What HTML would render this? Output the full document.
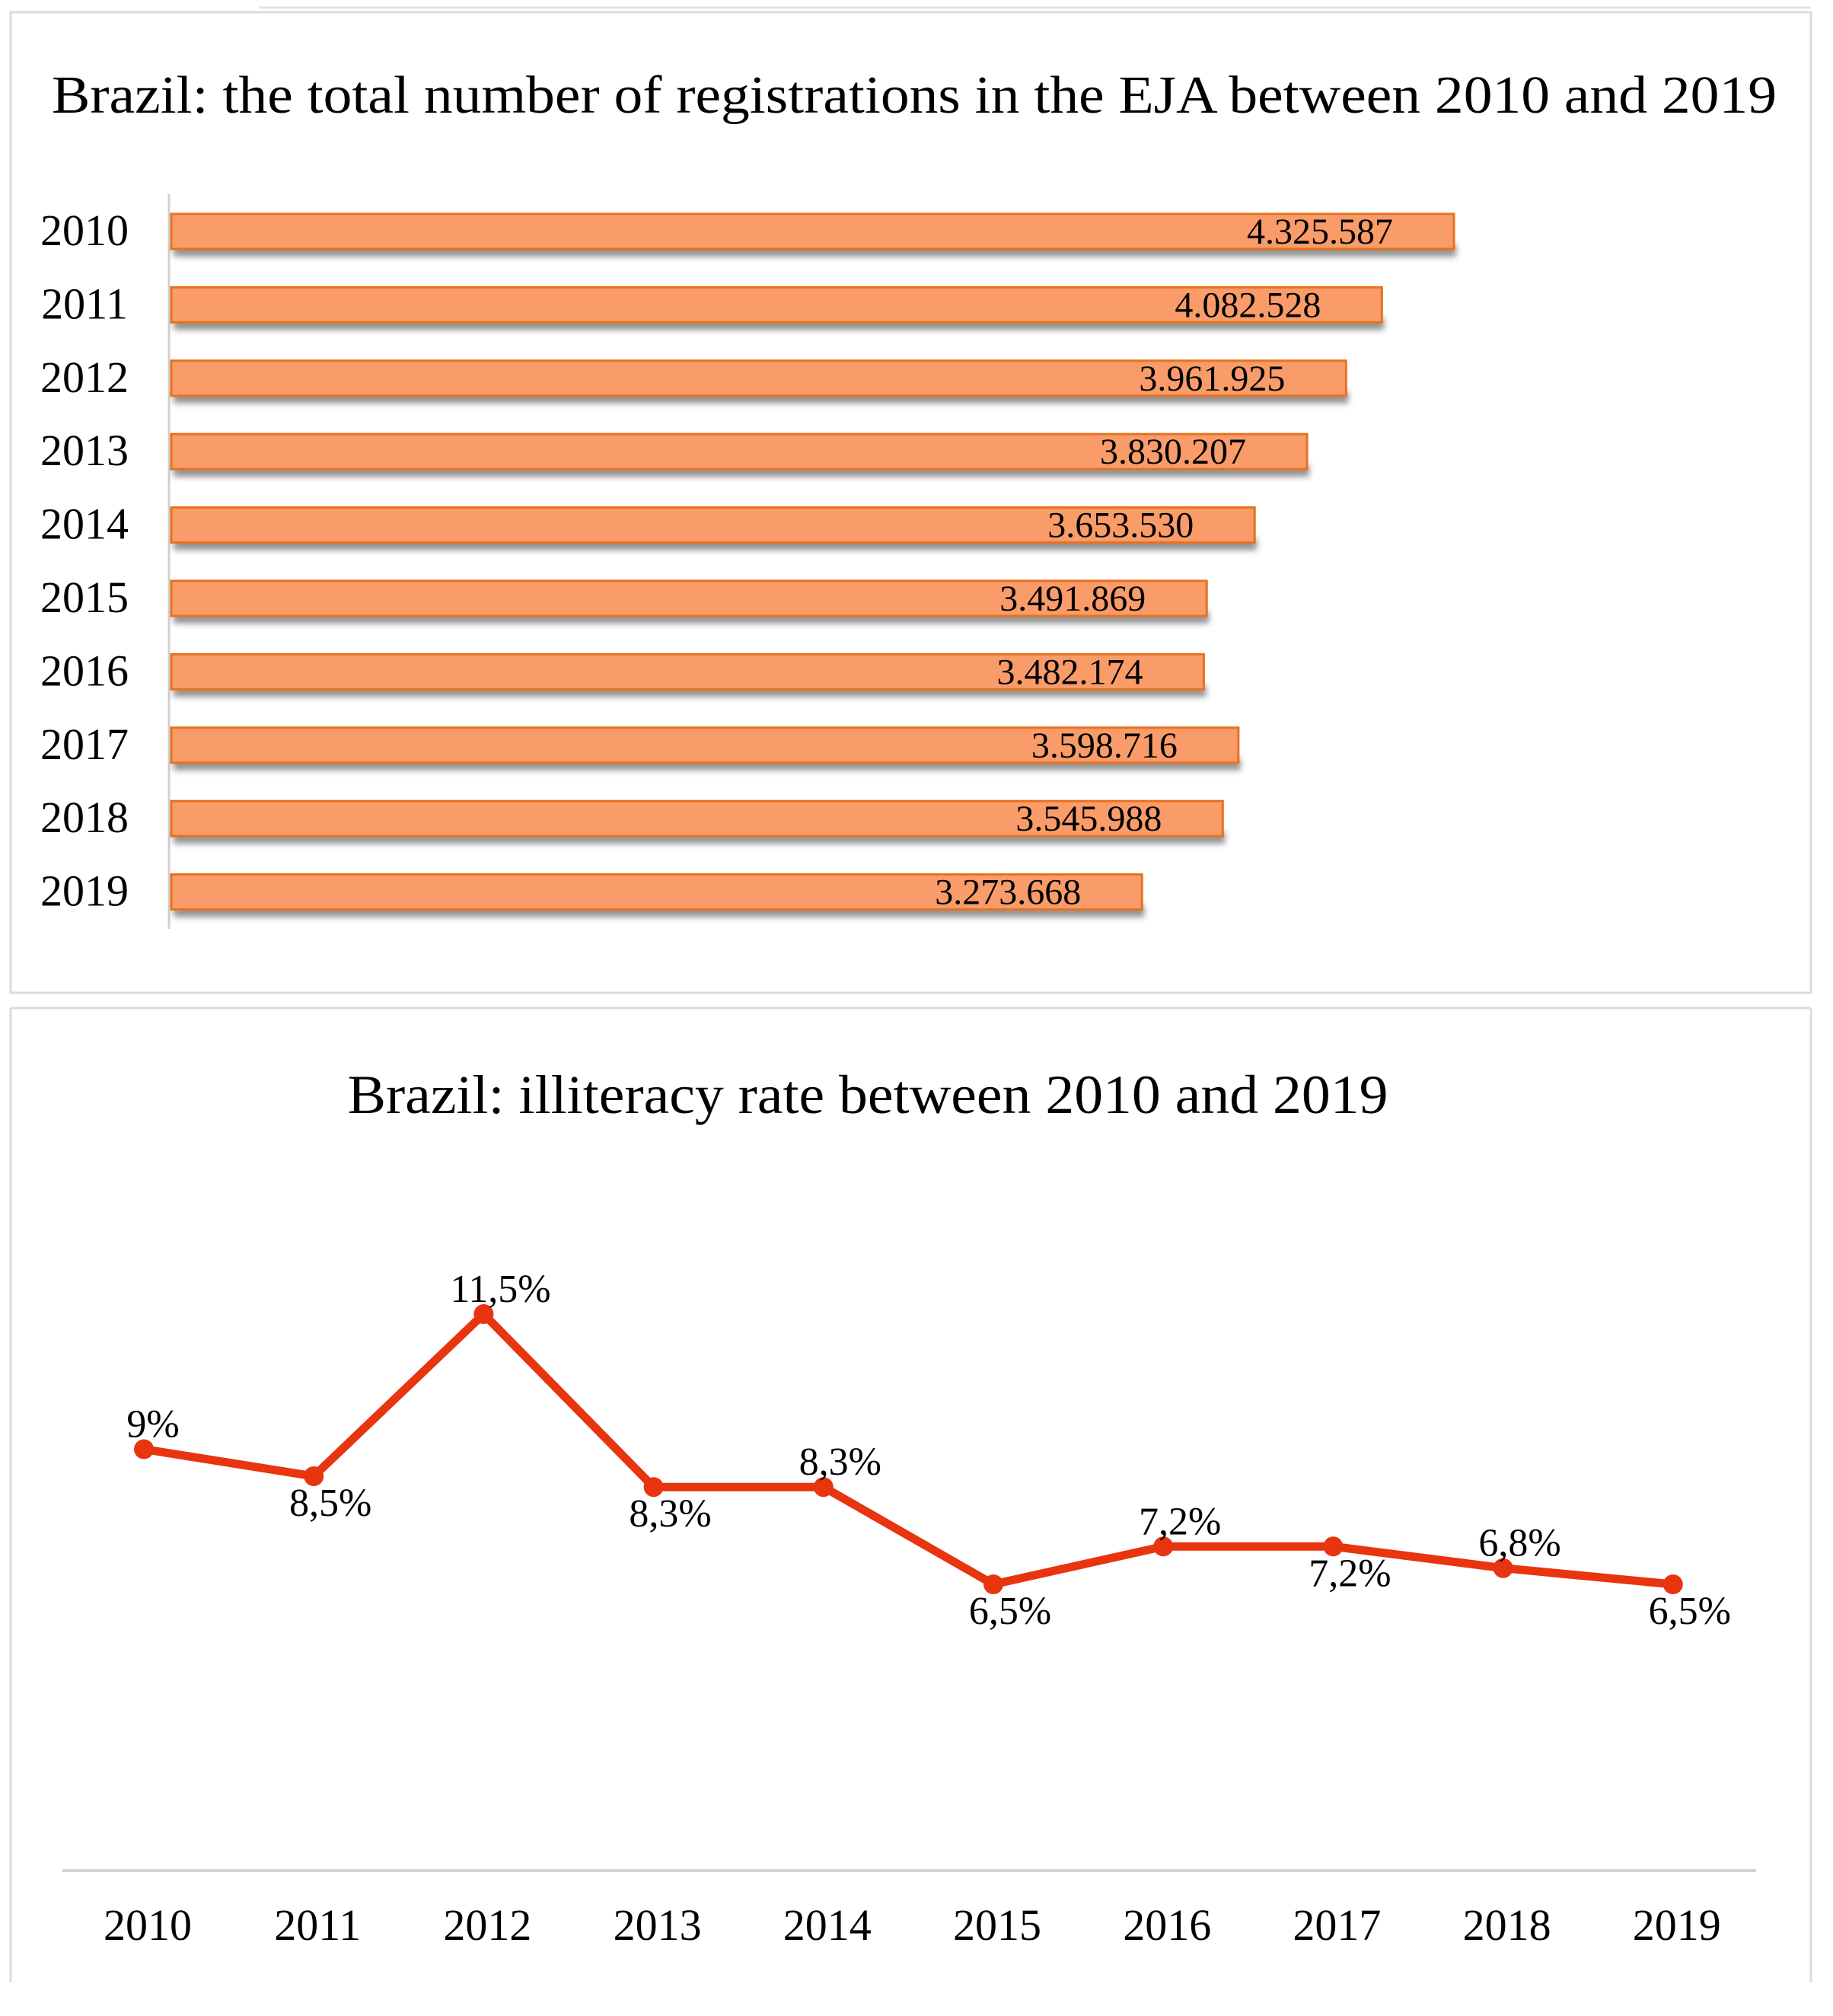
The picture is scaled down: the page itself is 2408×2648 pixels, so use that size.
<!DOCTYPE html>
<html><head><meta charset="utf-8"><style>
body{margin:0;background:#fff;}
svg{display:block;font-family:"Liberation Serif",serif;}
</style></head><body>
<svg width="2408" height="2648" viewBox="0 0 2408 2648">
<defs>
<filter id="sh" x="-5%" y="-50%" width="110%" height="250%"><feGaussianBlur stdDeviation="4"/></filter>
</defs>
<line x1="340" y1="10" x2="2379" y2="10" stroke="#e4e4e4" stroke-width="3"/>
<rect x="14" y="16" width="2365" height="1288" fill="#fff" stroke="#dcdcdc" stroke-width="3"/>
<text x="1201" y="148" font-size="70" text-anchor="middle" textLength="2266" lengthAdjust="spacingAndGlyphs">Brazil: the total number of registrations in the EJA between 2010 and 2019</text>
<line x1="222" y1="255" x2="222" y2="1220" stroke="#d0d0d0" stroke-width="3"/>
<g id="bars"></g>
<path d="M14,1324 H2379 M14,1324 V2604 M2379,1324 V2604" fill="none" stroke="#dcdcdc" stroke-width="3"/>
<text x="1140" y="1462" font-size="72" text-anchor="middle" textLength="1367" lengthAdjust="spacingAndGlyphs">Brazil: illiteracy rate between 2010 and 2019</text>
<line x1="82" y1="2457" x2="2307" y2="2457" stroke="#d4d4d4" stroke-width="4"/>
<g id="line"></g>
</svg>
<script>
const years = ["2010","2011","2012","2013","2014","2015","2016","2017","2018","2019"];
const registrations = [4325587,4082528,3961925,3830207,3653530,3491869,3482174,3598716,3545988,3273668];
const regLabels = ["4.325.587","4.082.528","3.961.925","3.830.207","3.653.530","3.491.869","3.482.174","3.598.716","3.545.988","3.273.668"];
const rates = [9,8.5,11.5,8.3,8.3,6.5,7.2,7.2,6.8,6.5];
const rateLabels = ["9%","8,5%","11,5%","8,3%","8,3%","6,5%","7,2%","7,2%","6,8%","6,5%"];
const labelAbove = [true,false,true,false,true,false,true,false,true,false];
const NS="http://www.w3.org/2000/svg";
function mk(t,a,p){const e=document.createElementNS(NS,t);for(const k in a)e.setAttribute(k,a[k]);p.appendChild(e);return e;}
const xb=v=>225+v*1685/4325587;
const yb=i=>281+i*96.4;
const bg=document.getElementById('bars');
registrations.forEach((v,i)=>{
  const s=mk('rect',{x:228,y:yb(i)+40,width:xb(v)-225,height:16,fill:'#666',opacity:0.7,filter:'url(#sh)'},bg);
  
  
  const r=mk('rect',{x:225,y:yb(i),width:xb(v)-225,height:46,fill:'#f99c69',stroke:'#e9711f','stroke-width':3},bg);
  
  
  const t=mk('text',{x:xb(v)-80,y:yb(i)+39,'font-size':48,'text-anchor':'end'},bg);
  t.textContent=regLabels[i];
  
  
  const c=mk('text',{x:111,y:yb(i)+41,'font-size':58,'text-anchor':'middle'},bg);
  c.textContent=years[i];
  
  
});
const xl=i=>189+i*223.2;
const yl=v=>2542.5-71*v;
const lg=document.getElementById('line');
const pl=mk('polyline',{points:rates.map((v,i)=>xl(i)+','+yl(v)).join(' '),fill:'none',stroke:'#e8340f','stroke-width':11,'stroke-linejoin':'round'},lg);


rates.forEach((v,i)=>{
  const c=mk('circle',{cx:xl(i),cy:yl(v),r:13,fill:'#e8340f'},lg);
  
  
  const t=mk('text',{x:xl(i)+(i==0?12:22),y:labelAbove[i]?yl(v)-16:yl(v)+52,'font-size':52,'text-anchor':'middle'},lg);
  t.textContent=rateLabels[i];
  
  
  const x=mk('text',{x:xl(i)+5,y:2548,'font-size':58,'text-anchor':'middle'},lg);
  x.textContent=years[i];
  
  
});
</script>
</body></html>
